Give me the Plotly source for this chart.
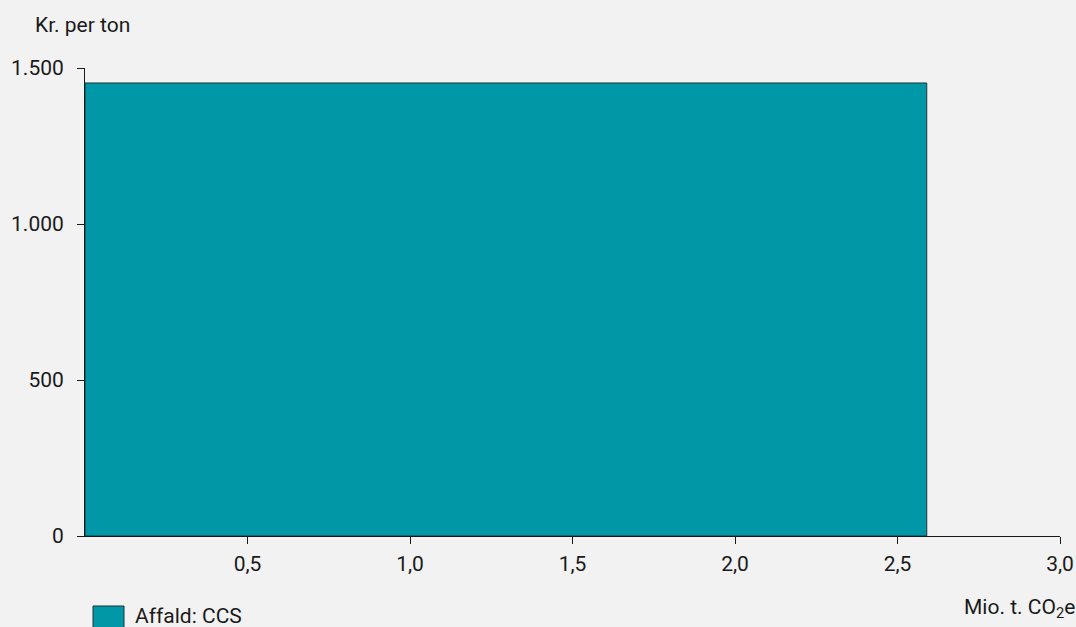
import plotly.graph_objects as go

categories = ["Affald: CCS"]
widths = [2.59]          # Mio. t. CO2e
costs = [1452]           # Kr. per ton
starts = [0.0]
x_ticks = [0.5, 1.0, 1.5, 2.0, 2.5, 3.0]
x_tick_labels = ["0,5", "1,0", "1,5", "2,0", "2,5", "3,0"]
y_ticks = [0, 500, 1000, 1500]
y_tick_labels = ["0", "500", "1.000", "1.500"]

color = "#0097A7"
font = dict(family="Roboto", size=21, color="#1a1a1a")

fig = go.Figure()
fig.add_trace(go.Bar(
    x=starts, y=costs, width=widths, offset=0,
    name=categories[0],
    marker=dict(color=color, line=dict(color="#1d3438", width=1)),
    showlegend=False,
))

W, H = 1076, 627
L, R, T, B = 85, 16, 68, 91
pw, ph = W - L - R, H - T - B

def px(x):
    return (x - L) / pw

def py(y):
    return (H - B - y) / ph

fig.update_layout(
    width=W, height=H,
    margin=dict(l=L, r=R, t=T, b=B),
    paper_bgcolor="#f2f2f2", plot_bgcolor="#f2f2f2",
    font=font,
    xaxis=dict(range=[0, 3.0], tickvals=x_ticks, ticktext=x_tick_labels,
               showgrid=False, zeroline=False, showline=True, linecolor="#1a1a1a",
               linewidth=1, ticks="outside", ticklen=7, tickcolor="#1a1a1a",
               ticklabelstandoff=2, automargin=False),
    yaxis=dict(range=[0, 1500], tickvals=y_ticks, ticktext=y_tick_labels,
               showgrid=False, zeroline=False, showline=True, linecolor="#1a1a1a",
               linewidth=1, ticks="outside", ticklen=7, tickcolor="#1a1a1a",
               ticklabelstandoff=9, automargin=False),
    showlegend=False,
)

# legend swatch + label
fig.add_shape(type="rect", xref="paper", yref="paper",
              x0=px(93), x1=px(124), y0=py(606), y1=py(632),
              fillcolor=color, line=dict(color="#1d3438", width=1))
fig.add_annotation(xref="paper", yref="paper", x=px(133), y=py(616),
                   text=categories[0], showarrow=False, xanchor="left", yanchor="middle",
                   font=font)
fig.add_annotation(xref="paper", yref="paper", x=px(33), y=py(25),
                   text="Kr. per ton", showarrow=False, xanchor="left", yanchor="middle",
                   font=font)
fig.add_annotation(xref="paper", yref="paper", x=px(1077), y=py(608),
                   text="Mio. t. CO<sub>2</sub>e", showarrow=False, xanchor="right",
                   yanchor="middle", font=font)

fig.write_html("out.html", config={"displayModeBar": False},
               post_script="document.body.style.margin='0';document.body.style.overflow='hidden';")
